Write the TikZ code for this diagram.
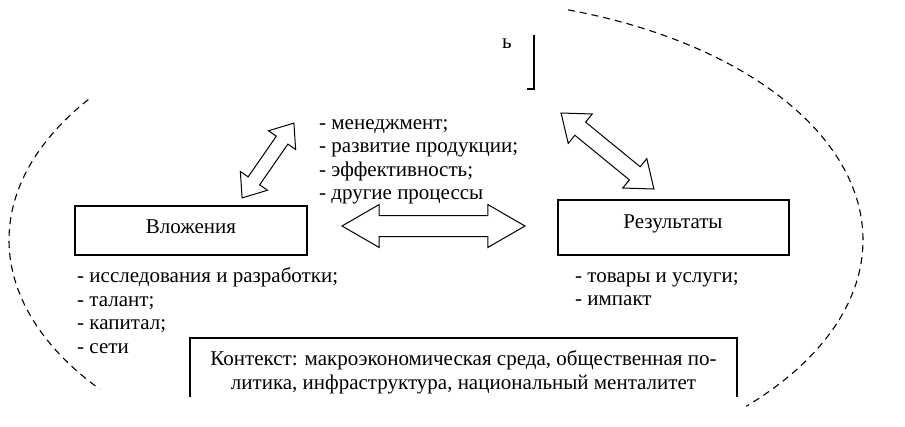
\documentclass[tikz,border=0pt]{standalone}
\usepackage{fontspec}
\setmainfont{Liberation Serif}
\usetikzlibrary{shapes.arrows}
\begin{document}
\begin{tikzpicture}[x=1pt,y=-1pt,
  every node/.style={font=\fontsize{21}{24}\selectfont},
  box/.style={draw,line width=1.3pt},
  txt/.style={anchor=base west,inner sep=0pt},
  ctxt/.style={anchor=base,inner sep=0pt},
  barrow/.style={draw,line width=1pt,double arrow,inner xsep=0pt,text width=0pt,anchor=center},
  dash ell/.style={line width=1.1pt,dash pattern=on 7pt off 5pt}
]
\useasboundingbox (0,0) rectangle (905,426);
% dashed ellipse parts
\draw[dash ell] plot[domain=72:-43.4,samples=90,smooth] ({436+427*cos(\x)},{240-242*sin(\x)});
\draw[dash ell] plot[domain=144.5:218,samples=50,smooth] ({436+427*cos(\x)},{240-242*sin(\x)});
% top fragment
\node[ctxt] (frag) at (507,48) {ь};
\coordinate (brT) at (534,35);
\coordinate (brB) at (534,89);
\coordinate (brL) at (527,89);
\draw[line width=1.1pt] (brT) -- (brB) -- (brL);
% boxes
\draw[box] (75,206) rectangle (307,255);
\node[ctxt] (vl) at (191,233) {Вложения};
\draw[box] (558,200) rectangle (789,255);
\node[ctxt] (rez) at (673,228) {Результаты};
% lists
\node[txt] (m1) at (319,129) {- менеджмент;};
\node[txt] (m2) at (319,152.5) {- развитие продукции;};
\node[txt] (m3) at (319,176) {- эффективность;};
\node[txt] (m4) at (319,199.5) {- другие процессы};
\node[txt] (l1) at (77,282) {- исследования и разработки;};
\node[txt] (l2) at (77,306) {- талант;};
\node[txt] (l3) at (77,329.5) {- капитал;};
\node[txt] (l4) at (77,353) {- сети};
\node[txt] (r1) at (575,282) {- товары и услуги;};
\node[txt] (r2) at (575,305) {- импакт};
% context box (open at bottom)
\coordinate (cA) at (190,397);
\coordinate (cB) at (190,338);
\coordinate (cC) at (737,338);
\coordinate (cD) at (737,397);
\draw[box] (cA) -- (cB) -- (cC) -- (cD);
\node[ctxt] (c1) at (463.5,365) {Контекст: макроэкономическая среда, общественная по-};
\node[ctxt] (c2) at (463.5,389) {литика, инфраструктура, национальный менталитет};
% block arrows
\node[barrow,minimum height=183pt,inner ysep=10pt,double arrow head extend=11pt,double arrow tip angle=60] (ah) at (433.5,226) {};
\node[barrow,minimum height=91pt,inner ysep=6.5pt,double arrow head extend=9.5pt,double arrow tip angle=77,rotate=55.3] (al) at (268,160.5) {};
\node[barrow,minimum height=120pt,inner ysep=8pt,double arrow head extend=10.5pt,double arrow tip angle=75,rotate=-39.3] (ar) at (607.5,151) {};
\end{tikzpicture}
\end{document}
